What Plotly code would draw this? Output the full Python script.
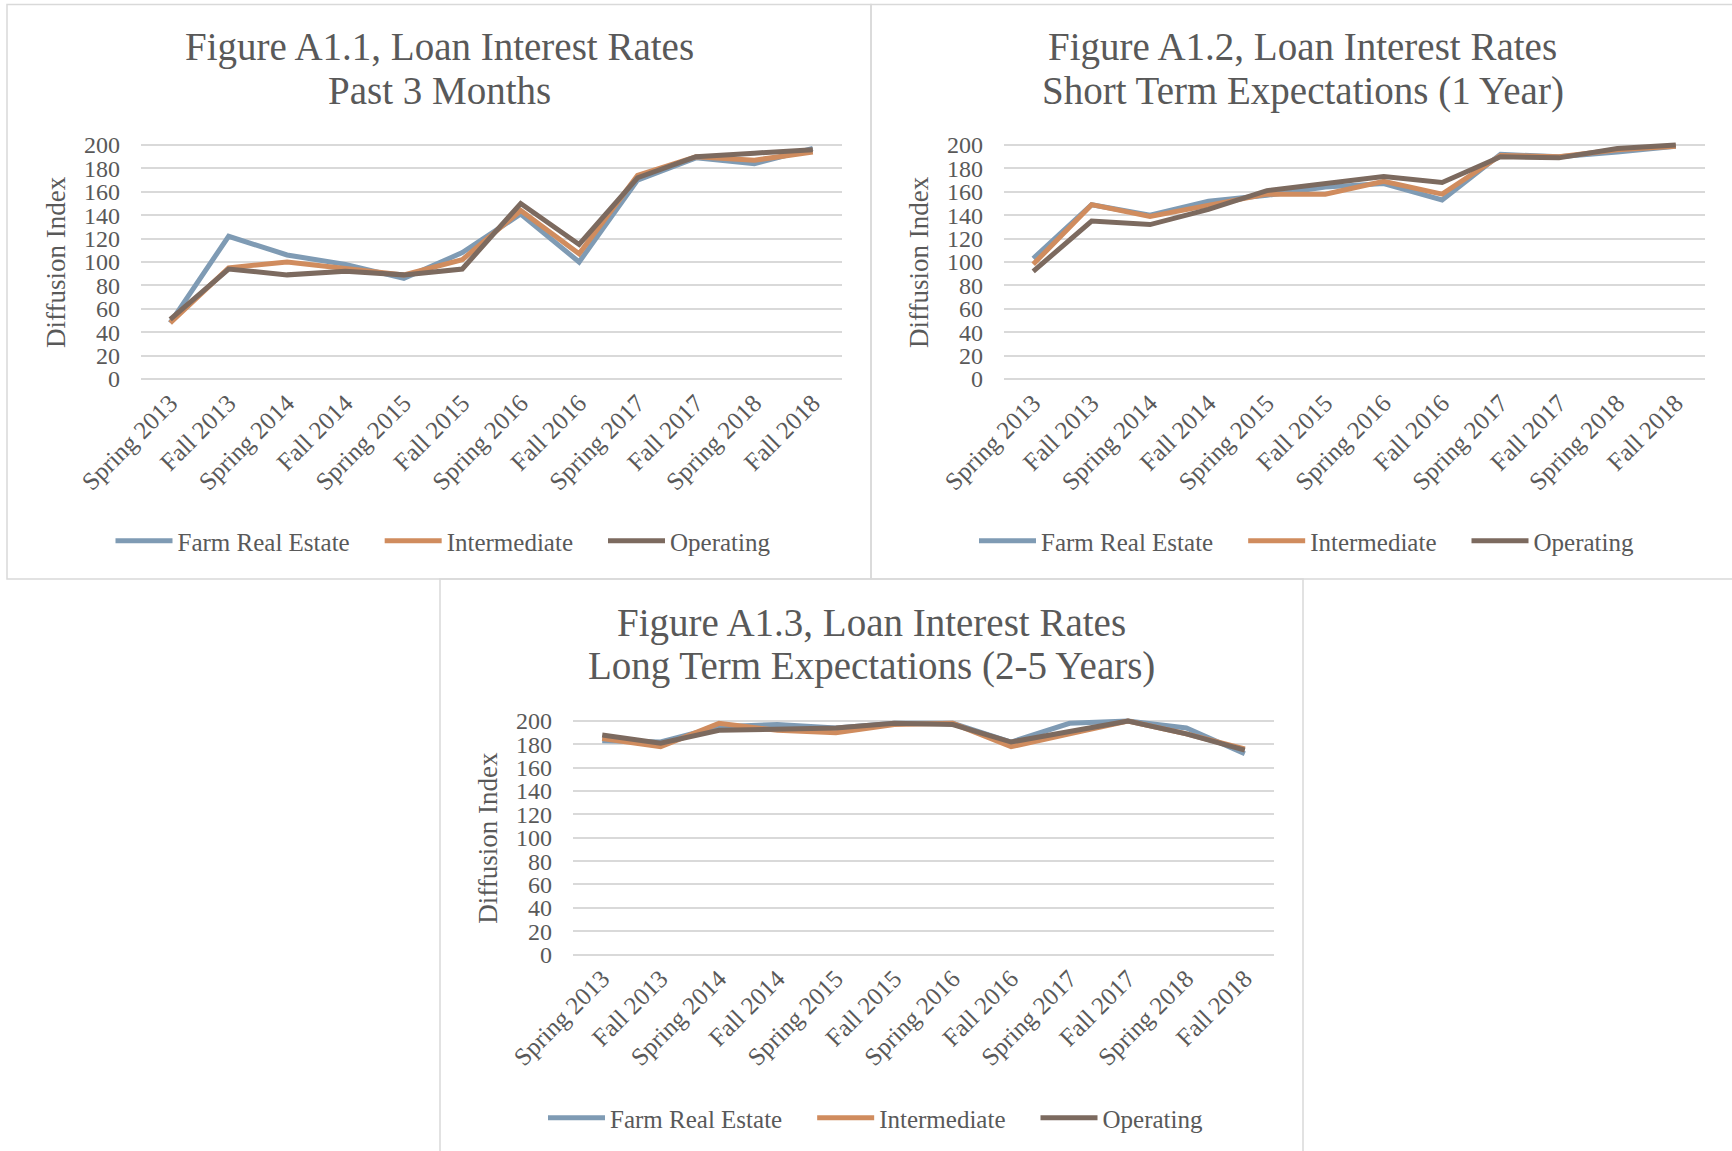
import plotly.graph_objects as go

# ---------------- data ----------------
categories = ["Spring 2013", "Fall 2013", "Spring 2014", "Fall 2014", "Spring 2015", "Fall 2015",
              "Spring 2016", "Fall 2016", "Spring 2017", "Fall 2017", "Spring 2018", "Fall 2018"]
series_names = ["Farm Real Estate", "Intermediate", "Operating"]

a1_farm = [48, 122, 106, 98, 86, 108, 141, 100, 170, 189, 184, 197]
a1_inter = [48, 95, 100, 95, 89, 102, 144, 107, 174, 190, 187, 194]
a1_oper = [51, 94, 89, 92, 89, 94, 150, 115, 172, 190, 193, 196]

a2_farm = [103, 149, 140, 152, 157, 164, 167, 153, 192, 190, 194, 199]
a2_inter = [98, 149, 139, 148, 158, 158, 169, 158, 191, 190, 196, 199]
a2_oper = [92, 135, 132, 145, 161, 167, 173, 168, 190, 189, 197, 200]

a3_farm = [183, 182, 195, 197, 194, 198, 198, 182, 198, 200, 194, 172]
a3_inter = [185, 178, 198, 192, 190, 197, 198, 178, 189, 200, 189, 176]
a3_oper = [188, 181, 192, 193, 194, 198, 197, 182, 191, 200, 189, 175]

titles = [("Figure A1.1, Loan Interest Rates", "Past 3 Months"),
          ("Figure A1.2, Loan Interest Rates", "Short Term Expectations (1 Year)"),
          ("Figure A1.3, Loan Interest Rates", "Long Term Expectations (2-5 Years)")]
y_title = "Diffusion Index"
y_ticks = [0, 20, 40, 60, 80, 100, 120, 140, 160, 180, 200]

# ---------------- style / layout ----------------
W, H = 1732, 1151
FONT = "Liberation Serif"
TXT = "#595959"
GRID = "#D9D9D9"
colors = ["#7F9BB4", "#D08C5E", "#7C6A5F"]
PAD = "\u00a0" * 4   # spacing between legend entries

# panel boxes (left, top, right, bottom) in px and plot areas (left, right, y200, y0)
boxes = [(7, 4.5, 871, 579), (871, 4.5, 1734, 579), (440, 579, 1303, 1160)]
plots = [(141, 842, 145, 379), (1004, 1705, 145, 379), (573, 1274, 721, 954.5)]
title_y = [(47.5, 90.8), (47.5, 90.8), (623, 666)]
legend_y = [541, 541, 1118]
ytitle_x = [56, 919, 488]

data = [(a1_farm, a1_inter, a1_oper), (a2_farm, a2_inter, a2_oper), (a3_farm, a3_inter, a3_oper)]

LO, HI = -3, 204

fig = go.Figure()
layout = dict(width=W, height=H, autosize=False,
              margin=dict(l=0, r=0, t=0, b=0, pad=0, autoexpand=False),
              paper_bgcolor="white", plot_bgcolor="white", showlegend=True,
              font=dict(family=FONT, color=TXT))
annotations = []
shapes = []

for i in range(3):
    sfx = "" if i == 0 else str(i + 1)
    pl, pr, p200, p0 = plots[i]
    k = (p0 - p200) / 200.0
    top = p200 - (HI - 200) * k
    bot = p0 + (0 - LO) * k
    legname = "legend" + sfx
    for j, vals in enumerate(data[i]):
        nm = series_names[j] + (PAD if j < 2 else "")
        fig.add_trace(go.Scatter(
            x=categories, y=vals, name=nm, mode="lines",
            line=dict(color=colors[j], width=5), xaxis="x" + sfx, yaxis="y" + sfx,
            legend=legname, hovertemplate="%{x}: %{y}<extra>" + series_names[j] + "</extra>"))
    layout["xaxis" + sfx] = dict(domain=[pl / W, pr / W], anchor="y" + sfx, type="category",
                                 range=[-0.5, 11.5], tickangle=-45, showgrid=False, showline=False,
                                 zeroline=False, ticks="", automargin=False,
                                 tickfont=dict(size=25, color=TXT, family=FONT))
    layout["yaxis" + sfx] = dict(domain=[1 - bot / H, 1 - top / H], anchor="x" + sfx,
                                 range=[LO, HI], tickvals=y_ticks, showgrid=True, gridcolor=GRID,
                                 gridwidth=1.5, zeroline=False, showline=False, ticks="",
                                 automargin=False, ticklabelstandoff=20,
                                 tickfont=dict(size=24, color=TXT, family=FONT))
    bl, bt, br, bb = boxes[i]
    cx = (bl + br) / 2
    layout[legname] = dict(orientation="h", x=(cx + 4) / W, y=1 - legend_y[i] / H,
                           xanchor="center", yanchor="middle", bgcolor="rgba(0,0,0,0)",
                           font=dict(size=25, color=TXT, family=FONT), itemwidth=57)
    annotations.append(dict(text=titles[i][0], x=cx / W, y=1 - title_y[i][0] / H, xref="paper", yref="paper",
                            xanchor="center", yanchor="middle", showarrow=False,
                            font=dict(size=39, color=TXT, family=FONT)))
    annotations.append(dict(text=titles[i][1], x=cx / W, y=1 - title_y[i][1] / H, xref="paper", yref="paper",
                            xanchor="center", yanchor="middle", showarrow=False,
                            font=dict(size=39, color=TXT, family=FONT)))
    annotations.append(dict(text=y_title, x=ytitle_x[i] / W, y=1 - ((p200 + p0) / 2) / H, xref="paper",
                            yref="paper", xanchor="center", yanchor="middle", textangle=-90, showarrow=False,
                            font=dict(size=27, color=TXT, family=FONT)))
    shapes.append(dict(type="rect", xref="paper", yref="paper", x0=bl / W, x1=(br + 6) / W if i == 1 else br / W,
                       y0=1 - bb / H, y1=1 - bt / H, line=dict(color=GRID, width=1.5), layer="below"))

layout["annotations"] = annotations
layout["shapes"] = shapes
fig.update_layout(**layout)

fig.write_html("out.html", config={"displayModeBar": False},
               post_script="document.body.style.margin='0';document.body.style.overflow='hidden';")
